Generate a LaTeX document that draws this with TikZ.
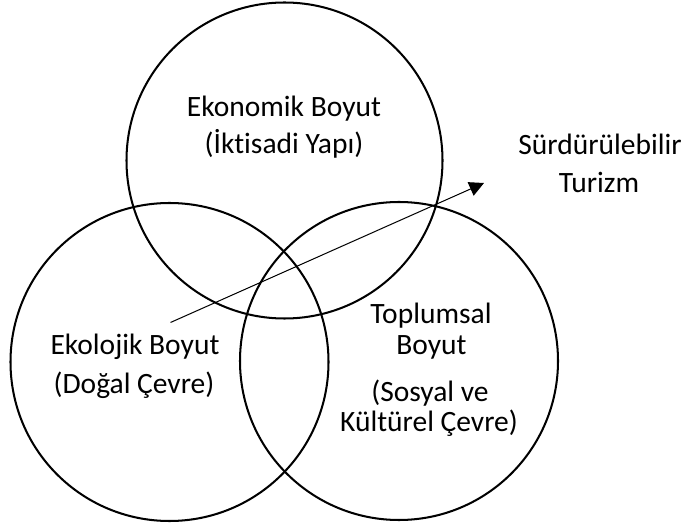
\documentclass[tikz,border=0pt]{standalone}
\usepackage{fontspec}
\setmainfont{Carlito}[Ligatures=NoCommon]
\usetikzlibrary{arrows.meta}
\begin{document}
\begin{tikzpicture}[x=0.444pt, y=0.444pt, >={Triangle[length=6.5pt,width=6.5pt]}, every node/.style={font=\fontsize{13.1}{15}\selectfont, inner sep=0pt, anchor=base}]
	\useasboundingbox (0,0) rectangle (683,525);
	% daireler
	\draw[line width=0.9pt] (284.5,364.5) circle (158);
	\draw[line width=0.9pt] (169.5,163) circle (159);
	\draw[line width=0.9pt] (399,164) circle (159);
	
	% ok
	\coordinate (bas) at (170.5,202.5);
	\coordinate (uc) at (484,342);
	\draw[->, line width=0.45pt] (bas) -- (uc);
	
	% metinler
	\node (eko1) at (284,408.3) {Ekonomik Boyut};
	\node (eko2) at (284,371.5) {(İktisadi Yapı)};
	\node (sur1) at (600,370.7) {Sürdürülebilir};
	\node (sur2) at (599,332.3) {Turizm};
	\node (ekl1) at (135,170.7) {Ekolojik Boyut};
	\node (ekl2) at (134,131.7) {(Doğal Çevre)};
	\node (top1) at (431,201.7) {Toplumsal};
	\node (top2) at (431.5,170) {Boyut};
	\node (top3) at (430,123.3) {(Sosyal ve};
	\node (top4) at (429,93.3) {Kültürel Çevre)};
\end{tikzpicture}
\end{document}
